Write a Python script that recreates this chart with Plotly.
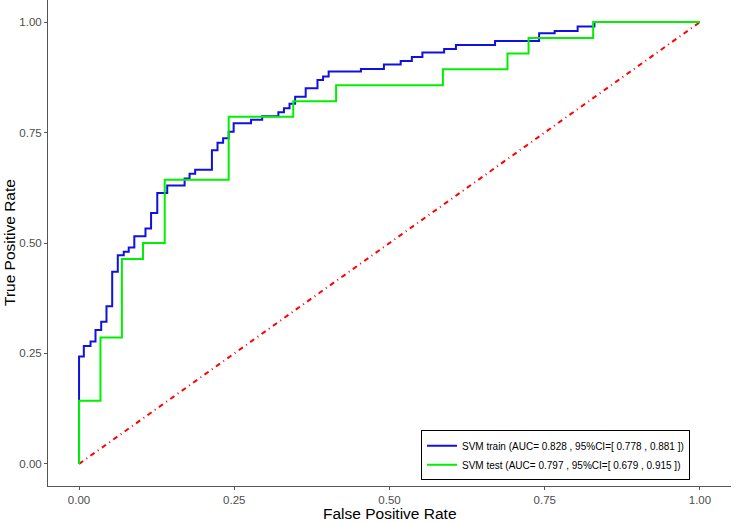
import plotly.graph_objects as go

# Training ROC (SVM train)
train_fpr = [0.0, 0.0, 0.0077, 0.0185, 0.0265, 0.0357, 0.0442, 0.0534, 0.0624, 0.072, 0.080,
             0.089, 0.107, 0.116, 0.126, 0.142, 0.170, 0.178, 0.187, 0.214, 0.223, 0.232,
             0.241, 0.249, 0.277, 0.295, 0.321, 0.330, 0.339, 0.348, 0.365, 0.384, 0.393,
             0.402, 0.454, 0.491, 0.518, 0.536, 0.553, 0.588, 0.607, 0.670, 0.741, 0.766,
             0.803, 0.830, 1.0]
train_tpr = [0.0, 0.243, 0.267, 0.277, 0.303, 0.322, 0.357, 0.435, 0.472, 0.480, 0.490,
             0.515, 0.533, 0.568, 0.613, 0.630, 0.646, 0.657, 0.666, 0.710, 0.727, 0.737,
             0.752, 0.771, 0.779, 0.787, 0.796, 0.805, 0.815, 0.831, 0.850, 0.869, 0.877,
             0.888, 0.894, 0.904, 0.912, 0.921, 0.931, 0.939, 0.948, 0.957, 0.975, 0.980,
             0.990, 1.0, 1.0]

# Test ROC (SVM test)
test_fpr = [0.0, 0.0, 0.0345, 0.069, 0.103, 0.138, 0.241, 0.345, 0.414, 0.586, 0.690,
            0.724, 0.828, 1.0]
test_tpr = [0.0, 0.143, 0.286, 0.464, 0.500, 0.643, 0.786, 0.821, 0.857, 0.893, 0.929,
            0.964, 1.0, 1.0]

diag_x = [0.0, 1.0]
diag_y = [0.0, 1.0]

train_label = "SVM train (AUC= 0.828 , 95%CI=[ 0.778 , 0.881 ])"
test_label = "SVM test (AUC= 0.797 , 95%CI=[ 0.679 , 0.915 ])"

x_ticks = [0.0, 0.25, 0.5, 0.75, 1.0]
x_ticktext = ["0.00", "0.25", "0.50", "0.75", "1.00"]
y_ticks = [0.0, 0.25, 0.5, 0.75, 1.0]
y_ticktext = ["0.00", "0.25", "0.50", "0.75", "1.00"]

x_title = "False Positive Rate"
y_title = "True Positive Rate"

fig = go.Figure()
fig.add_trace(go.Scatter(x=diag_x, y=diag_y, mode="lines", showlegend=False,
                         line=dict(color="#FF0000", width=2, dash="5px,4px,1px,4px")))
fig.add_trace(go.Scatter(x=train_fpr, y=train_tpr, mode="lines", name=train_label,
                         line=dict(color="#1010E0", width=2, shape="hv")))
fig.add_trace(go.Scatter(x=test_fpr, y=test_tpr, mode="lines", name=test_label,
                         line=dict(color="#00F000", width=2, shape="hv")))

axis_common = dict(showgrid=False, zeroline=False, showline=True, linecolor="#555555",
                   linewidth=1, ticks="outside", ticklen=3, tickcolor="#555555",
                   tickfont=dict(size=11.5, color="#4d4d4d", family="Liberation Sans, Arial"),
                   range=[-0.05, 1.05], automargin=False)

fig.update_layout(
    width=734, height=522,
    paper_bgcolor="white", plot_bgcolor="white",
    margin=dict(l=48, r=3, t=0, b=36),
    font=dict(family="Liberation Sans, Arial", color="black"),
    xaxis=dict(**axis_common, tickvals=x_ticks, ticktext=x_ticktext),
    yaxis=dict(**axis_common, tickvals=y_ticks, ticktext=y_ticktext),
    legend=dict(x=0.94, xanchor="right", y=0.012, yanchor="bottom",
                bgcolor="white", bordercolor="black", borderwidth=1,
                font=dict(size=10, color="black"), itemwidth=30,
                tracegroupgap=0),
    annotations=[
        dict(text=x_title, xref="paper", yref="paper", x=0.5, y=0, xanchor="center",
             yanchor="middle", yshift=-27, showarrow=False, font=dict(size=15.5)),
        dict(text=y_title, xref="paper", yref="paper", x=0, y=0.5, xanchor="center",
             yanchor="middle", xshift=-39, textangle=-90, showarrow=False,
             font=dict(size=15.5)),
    ],
)

fig.write_html("out.html", config={"displayModeBar": False},
               post_script="document.body.style.margin='0';document.body.style.overflow='hidden';")
